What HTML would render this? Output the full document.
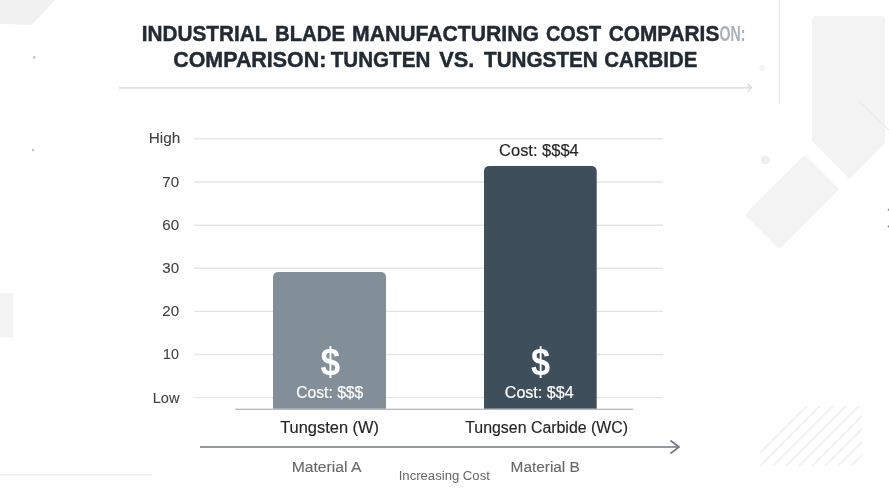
<!DOCTYPE html>
<html>
<head>
<meta charset="utf-8">
<title>Industrial Blade Manufacturing Cost Comparison</title>
<style>
html,body{margin:0;padding:0;background:#fff;}
body{width:889px;height:500px;overflow:hidden;font-family:"Liberation Sans",Arial,sans-serif;}
svg{display:block;}
text{font-family:"Liberation Sans",Arial,sans-serif;}
.t{font-weight:bold;font-size:22px;fill:#222a33;stroke:#222a33;stroke-width:0.45px;}
.tg{fill:#a9b0b8;stroke:none;}
.ax{font-size:15px;fill:#414141;stroke:#414141;stroke-width:0.1px;}
.lbl{font-size:16px;fill:#252525;stroke:#252525;stroke-width:0.15px;}
.mat{font-size:15.5px;fill:#686868;stroke:#686868;stroke-width:0.12px;}
.inc{font-size:13px;fill:#666;}
.cw{font-size:16px;fill:#fff;stroke:#fff;stroke-width:0.2px;}
.big{font-size:39px;font-weight:bold;fill:#fff;}
</style>
</head>
<body>
<svg width="889" height="500" viewBox="0 0 889 500">
  <rect width="889" height="500" fill="#ffffff"/>
  <!-- background decorations -->
  <g id="deco">
    <polygon points="0,0 55,0 32,24.8 0,24" fill="#f1f1f2"/>
    <rect x="0" y="293.3" width="13.3" height="44" fill="#f3f3f4"/>
    <line x1="0" y1="475" x2="152" y2="475" stroke="#ededed" stroke-width="1.4"/>
    <circle cx="34.2" cy="57.4" r="1.3" fill="#c4c4c4"/>
    <circle cx="33" cy="150" r="1.3" fill="#c4c4c4"/>
    <line x1="779.4" y1="0" x2="779.4" y2="104" stroke="#ececec" stroke-width="1.4"/>
    <path d="M812,20 Q812,16 816,16 L881,16 Q885,16 885,20 L885,143 L849.5,179 L812,141 Z" fill="#f3f3f3"/>
    <line x1="859" y1="101" x2="889" y2="130" stroke="#e6e6e6" stroke-width="1"/>
    <rect x="-24.5" y="-42.5" width="49" height="85" rx="3" transform="translate(792,202) rotate(45)" fill="#f3f3f3"/>
    <circle cx="765.3" cy="160" r="4.5" fill="#efefef"/>
    <circle cx="762" cy="68" r="3" fill="#f6f6f6"/>
    <circle cx="888.6" cy="209.8" r="1" fill="#8a8a8a"/>
    <circle cx="888.6" cy="226.5" r="1" fill="#8a8a8a"/>
    <clipPath id="hc"><rect x="758" y="406" width="104" height="60"/></clipPath>
    <g stroke="#f2f2f2" stroke-width="2" clip-path="url(#hc)">
      <line x1="760" y1="453" x2="808" y2="405"/>
      <line x1="760" y1="466" x2="821" y2="405"/>
      <line x1="773" y1="466" x2="834" y2="405"/>
      <line x1="786" y1="466" x2="847" y2="405"/>
      <line x1="799" y1="466" x2="860" y2="405"/>
      <line x1="812" y1="466" x2="873" y2="405"/>
      <line x1="825" y1="466" x2="886" y2="405"/>
      <line x1="838" y1="466" x2="899" y2="405"/>
      <line x1="851" y1="466" x2="912" y2="405"/>
    </g>
  </g>

  <!-- title underline -->
  <line x1="119" y1="87.8" x2="751" y2="87.8" stroke="#d6d6d6" stroke-width="1.2"/>
  <polyline points="747.6,84 751.4,87.8 747.6,91.6" fill="none" stroke="#d6d6d6" stroke-width="1.2"/>

  <!-- gridlines -->
  <g stroke="#e5e5e5" stroke-width="1.4">
    <line x1="194" y1="138.7" x2="663" y2="138.7"/>
    <line x1="194" y1="182" x2="663" y2="182"/>
    <line x1="194" y1="225.2" x2="663" y2="225.2"/>
    <line x1="194" y1="268.3" x2="663" y2="268.3"/>
    <line x1="194" y1="311.4" x2="663" y2="311.4"/>
    <line x1="194" y1="354.5" x2="663" y2="354.5"/>
    <line x1="194" y1="397.6" x2="663" y2="397.6"/>
  </g>

  <!-- bars -->
  <path d="M273,408.8 L273,277.5 Q273,272 278.5,272 L380.5,272 Q386,272 386,277.5 L386,408.8 L273,408.8 Z" fill="#838f98"/>
  <path d="M484,408.8 L484,171.5 Q484,166 489.5,166 L591,166 Q596.7,166 596.7,171.5 L596.7,408.8 Z" fill="#3f4e5b"/>
  <line x1="235" y1="409.3" x2="633" y2="409.3" stroke="#a2a3a5" stroke-width="1.1"/>

  <!-- x arrow -->
  <line x1="200" y1="447" x2="678" y2="447" stroke="#6e777f" stroke-width="1.6"/>
  <polyline points="670.5,440.5 679,447 670.5,453.5" fill="none" stroke="#6e777f" stroke-width="1.6"/>

  <!-- texts -->
  <text class="t" y="41.00"><tspan id="t1w0" x="141.75" y="41.00" textLength="125.26" lengthAdjust="spacingAndGlyphs">INDUSTRIAL</tspan> <tspan id="t1w1" x="275.00" y="41.00" textLength="70.04" lengthAdjust="spacingAndGlyphs">BLADE</tspan> <tspan id="t1w2" x="352.00" y="41.20" textLength="187.03" lengthAdjust="spacingAndGlyphs">MANUFACTURING</tspan> <tspan id="t1w3" x="546.00" y="41.40" textLength="55.26" lengthAdjust="spacingAndGlyphs">COST</tspan> <tspan id="t1w4" x="608.75" y="41.40" textLength="110.52" lengthAdjust="spacingAndGlyphs">COMPARIS</tspan><tspan id="t1g" class="tg" x="719.50" y="41.40" textLength="25.89" lengthAdjust="spacingAndGlyphs">ON:</tspan></text>
  <text class="t" y="67.00"><tspan id="t2w0" x="173.25" y="67.00" textLength="153.04" lengthAdjust="spacingAndGlyphs">COMPARISON:</tspan> <tspan id="t2w1" x="330.75" y="67.00" textLength="99.52" lengthAdjust="spacingAndGlyphs">TUNGTEN</tspan> <tspan id="t2w2" x="439.25" y="67.30" textLength="35.04" lengthAdjust="spacingAndGlyphs">VS.</tspan> <tspan id="t2w3" x="484.00" y="67.40" textLength="113.76" lengthAdjust="spacingAndGlyphs">TUNGSTEN</tspan> <tspan id="t2w4" x="604.25" y="67.40" textLength="93.02" lengthAdjust="spacingAndGlyphs">CARBIDE</tspan></text>
  <text id="y0" class="ax" x="148.75" y="143.20" textLength="31.53" lengthAdjust="spacingAndGlyphs">High</text>
  <text id="y1" class="ax" x="162.35" y="187.00" textLength="16.84" lengthAdjust="spacingAndGlyphs">70</text>
  <text id="y2" class="ax" x="162.35" y="230.20" textLength="16.76" lengthAdjust="spacingAndGlyphs">60</text>
  <text id="y3" class="ax" x="162.25" y="273.40" textLength="16.82" lengthAdjust="spacingAndGlyphs">30</text>
  <text id="y4" class="ax" x="162.25" y="316.10" textLength="16.84" lengthAdjust="spacingAndGlyphs">20</text>
  <text id="y5" class="ax" x="163.00" y="358.80" textLength="15.88" lengthAdjust="spacingAndGlyphs">10</text>
  <text id="y6" class="ax" x="152.75" y="403.00" textLength="26.68" lengthAdjust="spacingAndGlyphs">Low</text>
  <text id="d1" class="big" x="320.45" y="374.70" textLength="19.66" lengthAdjust="spacingAndGlyphs">$</text>
  <text id="c1" class="cw" x="296.20" y="397.60" textLength="67.11" lengthAdjust="spacingAndGlyphs">Cost: $$$</text>
  <text id="d2" class="big" x="531.00" y="374.70" textLength="19.12" lengthAdjust="spacingAndGlyphs">$</text>
  <text id="c2" class="cw" x="504.80" y="397.60" textLength="68.77" lengthAdjust="spacingAndGlyphs">Cost: $$4</text>
  <text id="c3" class="lbl" x="499.10" y="155.90" textLength="79.62" lengthAdjust="spacingAndGlyphs">Cost: $$$4</text>
  <text id="l1" class="lbl" x="280.20" y="433.20" textLength="98.82" lengthAdjust="spacingAndGlyphs">Tungsten (W)</text>
  <text id="l2" class="lbl" x="465.20" y="433.00" textLength="162.91" lengthAdjust="spacingAndGlyphs">Tungsen Carbide (WC)</text>
  <text id="m1" class="mat" x="291.70" y="471.70" textLength="69.83" lengthAdjust="spacingAndGlyphs">Material A</text>
  <text id="m2" class="mat" x="510.60" y="471.90" textLength="69.21" lengthAdjust="spacingAndGlyphs">Material B</text>
  <text id="inc" class="inc" x="398.70" y="479.70" textLength="91.17" lengthAdjust="spacingAndGlyphs">Increasing Cost</text>
</svg>
</body>
</html>
